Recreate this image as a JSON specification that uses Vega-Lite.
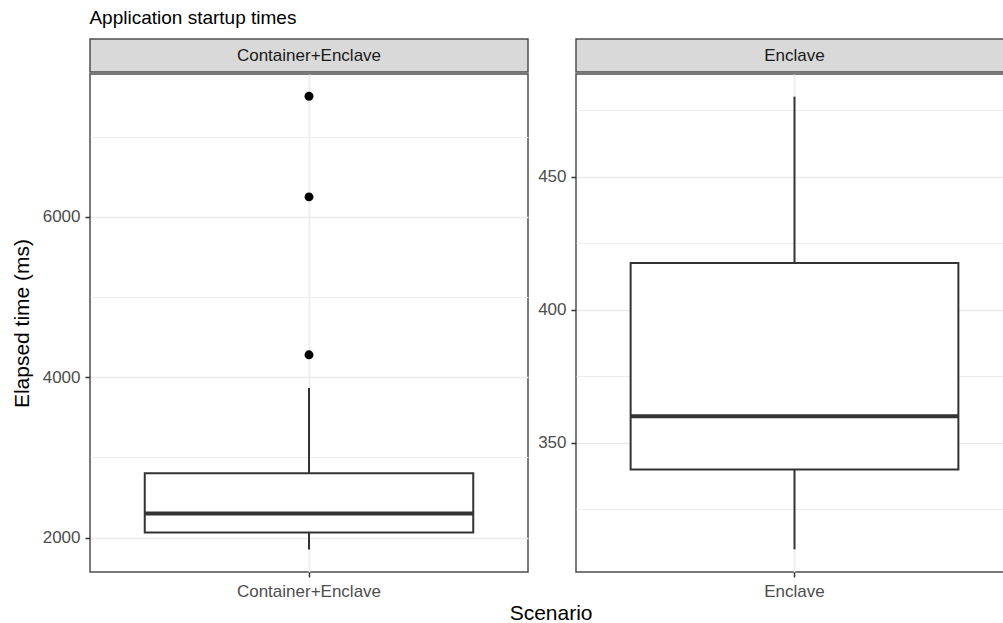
{
  "$schema": "https://vega.github.io/schema/vega-lite/v6.json",
  "background": "white",
  "padding": {"left": 10, "top": 9, "right": 0, "bottom": 0},
  "config": {
    "font": "Liberation Sans",
    "view": {"stroke": "#4d4d4d", "strokeWidth": 1.5},
    "axis": {
      "domain": false,
      "tickColor": "#333333",
      "tickSize": 5,
      "tickWidth": 1.5,
      "labelColor": "#4d4d4d",
      "labelFontSize": 17,
      "labelFont": "Liberation Sans",
      "labelPadding": 5,
      "gridColor": "#ebebeb",
      "gridWidth": 1.6,
      "titleFont": "Liberation Sans",
      "titleFontSize": 21,
      "titleFontWeight": "normal",
      "titleColor": "#000000"
    },
    "title": {"font": "Liberation Sans", "fontWeight": "normal", "color": "#000000"}
  },
  "title": {"text": "Application startup times", "anchor": "start", "fontSize": 19, "dx": 79, "offset": 10},
  "datasets": {
    "boxes": [
      {"scenario": "Container+Enclave", "lower": 1854, "q1": 2066, "median": 2303, "q3": 2804, "upper": 3867},
      {"scenario": "Enclave", "lower": 310, "q1": 340, "median": 360, "q3": 417.5, "upper": 480}
    ],
    "outliers": [
      {"scenario": "Container+Enclave", "time": 4280},
      {"scenario": "Container+Enclave", "time": 6250},
      {"scenario": "Container+Enclave", "time": 7505}
    ]
  },
  "vconcat": [
    {
      "title": {"text": "Scenario", "orient": "bottom", "anchor": "middle", "fontSize": 21, "dx": 39, "offset": 3},
      "spacing": 7,
      "hconcat": [
        {
          "spacing": 0,
          "vconcat": [
            {
              "width": 438,
              "height": 33,
              "data": {"values": [{"label": "Container+Enclave"}]},
              "view": {"fill": "#d9d9d9", "stroke": "#4d4d4d", "strokeWidth": 1.5},
              "mark": {"type": "text", "fontSize": 17, "color": "#1a1a1a"},
              "encoding": {"text": {"field": "label"}}
            },
            {
              "width": 438,
              "height": 498,
              "encoding": {
                "x": {"field": "scenario", "type": "nominal", "scale": {"paddingInner": 0, "paddingOuter": 0}, "axis": {"title": null, "labelAngle": 0, "grid": true, "labelPadding": 6}}
              },
              "layer": [
                {
                  "data": {"name": "boxes"},
                  "transform": [{"filter": "datum.scenario === 'Container+Enclave'"}],
                  "layer": [
                    {
                      "mark": {"type": "rule", "stroke": "#333333", "strokeWidth": 2},
                      "encoding": {
                        "y": {"field": "lower", "type": "quantitative", "scale": {"domain": [1572, 7782], "nice": false, "zero": false},
                          "axis": {"title": "Elapsed time (ms)", "titlePadding": 10, "values": [2000, 3000, 4000, 5000, 6000, 7000], "format": "d",
                            "labelExpr": "datum.value % 2000 === 0 ? datum.label : ''",
                            "tickOpacity": {"condition": {"test": "datum.value % 2000 === 0", "value": 1}, "value": 0},
                            "gridWidth": {"condition": {"test": "datum.value % 2000 === 0", "value": 1.6}, "value": 0.9}}},
                        "y2": {"field": "q1"}
                      }
                    },
                    {
                      "mark": {"type": "rule", "stroke": "#333333", "strokeWidth": 2},
                      "encoding": {"y": {"field": "q3", "type": "quantitative"}, "y2": {"field": "upper"}}
                    },
                    {
                      "mark": {"type": "bar", "fill": "white", "stroke": "#333333", "strokeWidth": 2, "width": {"band": 0.75}},
                      "encoding": {"y": {"field": "q1", "type": "quantitative"}, "y2": {"field": "q3"}}
                    },
                    {
                      "mark": {"type": "bar", "fill": "white", "stroke": "#333333", "strokeWidth": 4, "width": {"band": 0.75}},
                      "encoding": {"y": {"field": "median", "type": "quantitative"}, "y2": {"field": "median"}}
                    }
                  ]
                },
                {
                  "data": {"name": "outliers"},
                  "transform": [{"filter": "datum.scenario === 'Container+Enclave'"}],
                  "mark": {"type": "circle", "size": 80, "color": "#000000", "opacity": 1},
                  "encoding": {"y": {"field": "time", "type": "quantitative"}}
                }
              ]
            }
          ]
        },
        {
          "spacing": 0,
          "vconcat": [
            {
              "width": 437,
              "height": 33,
              "data": {"values": [{"label": "Enclave"}]},
              "view": {"fill": "#d9d9d9", "stroke": "#4d4d4d", "strokeWidth": 1.5},
              "mark": {"type": "text", "fontSize": 17, "color": "#1a1a1a"},
              "encoding": {"text": {"field": "label"}}
            },
            {
              "width": 437,
              "height": 498,
              "data": {"name": "boxes"},
              "transform": [{"filter": "datum.scenario === 'Enclave'"}],
              "encoding": {
                "x": {"field": "scenario", "type": "nominal", "scale": {"paddingInner": 0, "paddingOuter": 0}, "axis": {"title": null, "labelAngle": 0, "grid": true, "labelPadding": 6}}
              },
              "layer": [
                {
                  "mark": {"type": "rule", "stroke": "#333333", "strokeWidth": 2},
                  "encoding": {
                    "y": {"field": "lower", "type": "quantitative", "scale": {"domain": [301.5, 488.5], "nice": false, "zero": false},
                      "axis": {"title": null, "values": [325, 350, 375, 400, 425, 450, 475], "format": "d",
                        "labelExpr": "datum.value % 50 === 0 ? datum.label : ''",
                        "tickOpacity": {"condition": {"test": "datum.value % 50 === 0", "value": 1}, "value": 0},
                        "gridWidth": {"condition": {"test": "datum.value % 50 === 0", "value": 1.6}, "value": 0.9}}},
                    "y2": {"field": "q1"}
                  }
                },
                {
                  "mark": {"type": "rule", "stroke": "#333333", "strokeWidth": 2},
                  "encoding": {"y": {"field": "q3", "type": "quantitative"}, "y2": {"field": "upper"}}
                },
                {
                  "mark": {"type": "bar", "fill": "white", "stroke": "#333333", "strokeWidth": 2, "width": {"band": 0.75}},
                  "encoding": {"y": {"field": "q1", "type": "quantitative"}, "y2": {"field": "q3"}}
                },
                {
                  "mark": {"type": "bar", "fill": "white", "stroke": "#333333", "strokeWidth": 4, "width": {"band": 0.75}},
                  "encoding": {"y": {"field": "median", "type": "quantitative"}, "y2": {"field": "median"}}
                }
              ]
            }
          ]
        }
      ]
    }
  ]
}
